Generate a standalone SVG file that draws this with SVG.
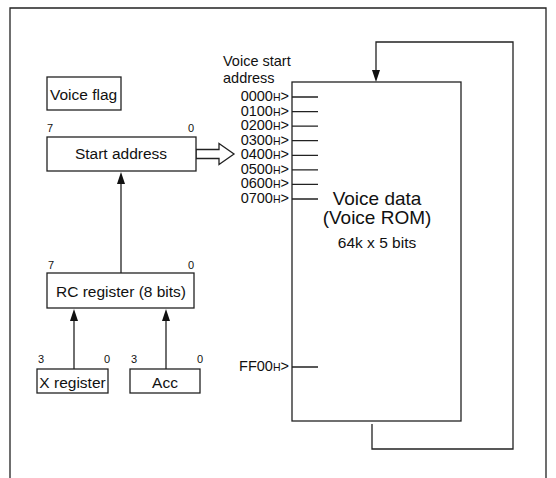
<svg xmlns="http://www.w3.org/2000/svg" width="556" height="478" viewBox="0 0 556 478">
<style>
  .ln { fill: none; stroke: #222; stroke-width: 1.3; }
  .bx { fill: #fff; stroke: #222; stroke-width: 1.3; }
  .t { font-family: "Liberation Sans", Arial, sans-serif; font-size: 15.5px; fill: #111; }
  .c { text-anchor: middle; }
  .e { text-anchor: end; }
  .b { font-family: "Liberation Sans", Arial, sans-serif; font-size: 11px; fill: #111; }
  .a { font-family: "Liberation Sans", Arial, sans-serif; font-size: 14.5px; fill: #111; text-anchor: end; }
  .h { font-size: 10.5px; }
  .vs { font-family: "Liberation Sans", Arial, sans-serif; font-size: 14.5px; fill: #111; }
  .big { font-family: "Liberation Sans", Arial, sans-serif; font-size: 19px; fill: #111; text-anchor: middle; }
  .ah { fill: #111; stroke: none; }
</style>
<rect x="0" y="0" width="556" height="478" fill="#fff"/>
<path class="ln" d="M10,478 V8 H546 V478"/>

<g id="connectors">
  <path class="ln" d="M121,273 V183"/>
  <polygon class="ah" points="121,172 117,184 125,184"/>
  <path class="ln" d="M74,369 V320"/>
  <polygon class="ah" points="74,309 70,321 78,321"/>
  <path class="ln" d="M166,369 V320"/>
  <polygon class="ah" points="166,309 162,321 170,321"/>
  <polygon class="bx" points="196,149.5 219,149.5 219,143.5 234,154 219,164.5 219,158.5 196,158.5"/>
  <path class="ln" d="M372,424 V449 H513 V42 H376 V72"/>
  <polygon class="ah" points="376,82 372,70 380,70"/>
</g>

<g id="voice-flag">
  <rect class="bx" x="47" y="77" width="74" height="33"/>
  <text class="t" x="50" y="100">Voice flag</text>
</g>

<g id="start-address">
  <rect class="bx" x="47" y="137" width="149" height="34"/>
  <text class="b" x="47" y="132">7</text>
  <text class="b e" x="194" y="132">0</text>
  <text class="t c" x="121" y="159">Start address</text>
</g>

<g id="rc-register">
  <rect class="bx" x="47" y="273" width="147" height="35"/>
  <text class="b" x="48" y="269">7</text>
  <text class="b e" x="194" y="269">0</text>
  <text class="t c" x="121" y="297">RC register (8 bits)</text>
</g>

<g id="x-register">
  <rect class="bx" x="37" y="369" width="71" height="24"/>
  <text class="b" x="38" y="363">3</text>
  <text class="b e" x="110" y="363">0</text>
  <text class="t c" x="72.5" y="388">X register</text>
</g>

<g id="acc">
  <rect class="bx" x="130" y="369" width="70" height="24"/>
  <text class="b" x="131" y="363">3</text>
  <text class="b e" x="203" y="363">0</text>
  <text class="t c" x="165" y="388">Acc</text>
</g>

<g id="voice-rom">
  <rect class="bx" x="292" y="82" width="169" height="339"/>
  <text class="vs" x="223" y="66">Voice start</text>
  <text class="vs" x="223" y="82.5">address</text>
  <path class="ln" d="M292,97 H318 M292,111.6 H318 M292,126.1 H318 M292,140.7 H318 M292,155.3 H318 M292,169.9 H318 M292,184.4 H318 M292,199 H318 M292,367 H318"/>
  <text class="a" x="289" y="101">0000<tspan class="h">H</tspan>&gt;</text>
  <text class="a" x="289" y="115.6">0100<tspan class="h">H</tspan>&gt;</text>
  <text class="a" x="289" y="130.1">0200<tspan class="h">H</tspan>&gt;</text>
  <text class="a" x="289" y="144.7">0300<tspan class="h">H</tspan>&gt;</text>
  <text class="a" x="289" y="159.3">0400<tspan class="h">H</tspan>&gt;</text>
  <text class="a" x="289" y="173.9">0500<tspan class="h">H</tspan>&gt;</text>
  <text class="a" x="289" y="188.4">0600<tspan class="h">H</tspan>&gt;</text>
  <text class="a" x="289" y="203">0700<tspan class="h">H</tspan>&gt;</text>
  <text class="a" x="289" y="371">FF00<tspan class="h">H</tspan>&gt;</text>
  <text class="big" x="377" y="205">Voice data</text>
  <text class="big" x="377" y="224">(Voice ROM)</text>
  <text class="t c" x="377" y="248">64k x 5 bits</text>
</g>
</svg>
